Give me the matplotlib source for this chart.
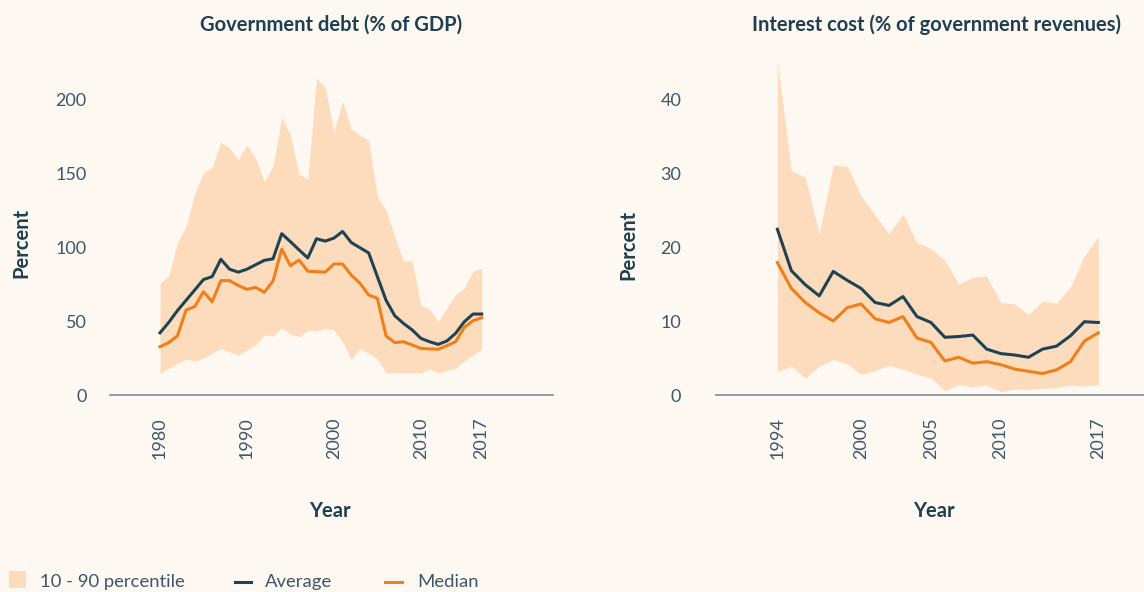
import numpy as np
import matplotlib
matplotlib.use("Agg")
import matplotlib.pyplot as plt
from matplotlib.patches import Rectangle
from matplotlib.lines import Line2D

plt.rcParams['font.family'] = ['Lato', 'DejaVu Sans']

# government debt (% of GDP), 1980-2017
debt_years = list(range(1980, 2018))
debt_avg = [42, 49, 57, 64, 71, 78, 80, 91.7, 85, 83, 85, 88, 91, 92, 109, 103.6,
            98, 92.6, 105.6, 104, 106, 110.5, 103, 99.5, 96, 80, 64, 53.6, 48.4, 44,
            38.3, 36, 34.2, 36.5, 41.7, 49.5, 54.7, 54.7]
debt_med = [32.6, 35.4, 39.9, 57.4, 59.7, 69.8, 63, 77.3, 77.3, 74, 71.4, 72.7, 69.4,
            77, 98.6, 87.4, 91.2, 83.6, 83.3, 83, 88.5, 88.5, 81, 75.5, 67.6, 65.3,
            39.9, 35.4, 36, 33.8, 31.5, 31.1, 30.9, 33.3, 36, 45.7, 50.2, 52.2]
debt_p90 = [75.5, 80.4, 103, 114, 136, 150, 154, 171, 167, 159, 169, 160, 144, 155,
            187.6, 175.7, 149, 146, 214, 208, 178, 198.6, 179.5, 175.7, 172, 134, 125,
            107, 90.5, 90.5, 60.8, 58, 49.5, 59, 68, 72, 83.8, 85.6]
debt_p10 = [14.6, 18, 21.4, 24.3, 23, 24.8, 28.2, 31.3, 29.3, 27, 30.4, 33.8, 40.5,
            39.9, 45.5, 41.2, 39.4, 43.5, 43.5, 45, 43.9, 36, 24, 31.5, 28.2, 24.3, 15,
            15, 15, 15, 15, 17.6, 15, 16.8, 18, 23, 27, 30.9]
debt_ticks = [1980, 1990, 2000, 2010, 2017]

# interest cost (% of government revenues), 1994-2017
int_years = list(range(1994, 2018))
int_avg = [22.4, 16.8, 14.9, 13.4, 16.7, 15.5, 14.4, 12.5, 12.1, 13.3, 10.6, 9.8,
           7.8, 7.9, 8.1, 6.2, 5.6, 5.4, 5.1, 6.2, 6.6, 8.0, 9.9, 9.8]
int_med = [17.9, 14.4, 12.5, 11.1, 10.0, 11.8, 12.3, 10.3, 9.8, 10.6, 7.7, 7.1,
           4.6, 5.1, 4.3, 4.5, 4.1, 3.5, 3.2, 2.9, 3.4, 4.5, 7.3, 8.4]
int_p90 = [45, 30.3, 29.4, 21.8, 31.1, 30.9, 26.9, 24.3, 21.8, 24.4, 20.6, 19.8,
           18.2, 15, 15.9, 16.1, 12.5, 12.3, 10.9, 12.7, 12.4, 14.6, 18.8, 21.4]
int_p10 = [3.1, 3.9, 2.3, 3.9, 4.8, 4.2, 2.8, 3.3, 4.0, 3.5, 2.8, 2.3,
           0.6, 1.4, 1.1, 1.35, 0.45, 0.8, 0.75, 0.9, 1.0, 1.35, 1.2, 1.4]
int_ticks = [1994, 2000, 2005, 2010, 2017]

bg = '#fdf8f2'
band_col = '#fddcbe'
avg_col = '#1e4453'
med_col = '#f07f1a'
txt_col = '#3d5866'
title_col = '#1f4050'

W, H = 1144, 592
fig = plt.figure(figsize=(W / 100, H / 100), dpi=100, facecolor=bg)


def make_ax(x0, x1, ytop, xlim, ylim, yticks, xticks, ypad):
    ax = fig.add_axes([x0 / W, (H - 395) / H, (x1 - x0) / W, (395 - ytop) / H])
    ax.set_facecolor(bg)
    ax.set_xlim(*xlim)
    ax.set_ylim(*ylim)
    for s in ['left', 'right', 'top']:
        ax.spines[s].set_visible(False)
    ax.spines['bottom'].set_color('#8a979e')
    ax.spines['bottom'].set_linewidth(1.3)
    ax.set_yticks(yticks)
    ax.set_xticks(xticks)
    ax.set_xticklabels([str(t) for t in xticks], rotation=90)
    ax.tick_params(axis='both', length=0, labelsize=13, colors=txt_col)
    ax.tick_params(axis='y', pad=ypad)
    ax.tick_params(axis='x', pad=16)
    return ax


ax1 = make_ax(110, 553, 62, (1974.25, 2025.2), (0, 225), [0, 50, 100, 150, 200],
              debt_ticks, 17)
ax1.fill_between(debt_years, debt_p10, debt_p90, color=band_col, lw=0)
ax1.plot(debt_years, debt_avg, color=avg_col, lw=2.2)
ax1.plot(debt_years, debt_med, color=med_col, lw=2.2)

ax2 = make_ax(716, 1144, 62, (1989.6, 2020.27), (0, 45), [0, 10, 20, 30, 40],
              int_ticks, 25)
ax2.fill_between(int_years, int_p10, int_p90, color=band_col, lw=0)
ax2.plot(int_years, int_avg, color=avg_col, lw=2.2)
ax2.plot(int_years, int_med, color=med_col, lw=2.2)

# titles and axis labels, placed in figure pixels
bold = dict(fontsize=14.5, fontweight='bold', color=title_col, ha='center', va='center')
fig.text(331 / W, 1 - 25 / H, 'Government debt (% of GDP)', **bold)
fig.text(936 / W, 1 - 25 / H, 'Interest cost (% of government revenues)', **bold)
fig.text(330 / W, 1 - 511 / H, 'Year', **bold)
fig.text(934 / W, 1 - 511 / H, 'Year', **bold)
fig.text(21 / W, 1 - 243 / H, 'Percent', rotation=90, **bold)
fig.text(628 / W, 1 - 245 / H, 'Percent', rotation=90, **bold)

# legend
fig.add_artist(Rectangle((9 / W, 1 - 588 / H), 17 / W, 17 / H, transform=fig.transFigure,
                         facecolor=band_col, edgecolor='none'))
fig.text(40 / W, 1 - 582 / H, '10 - 90 percentile', ha='left', va='center',
         fontsize=13.3, color=txt_col)
fig.add_artist(Line2D([235 / W, 251 / W], [1 - 582 / H] * 2, transform=fig.transFigure,
                      color=avg_col, lw=2.2))
fig.text(265 / W, 1 - 582 / H, 'Average', ha='left', va='center', fontsize=13.3,
         color=txt_col)
fig.add_artist(Line2D([385 / W, 402 / W], [1 - 582 / H] * 2, transform=fig.transFigure,
                      color=med_col, lw=2.2))
fig.text(417 / W, 1 - 582 / H, 'Median', ha='left', va='center', fontsize=13.3,
         color=txt_col)

fig.savefig('out.png', dpi=100, facecolor=bg)
